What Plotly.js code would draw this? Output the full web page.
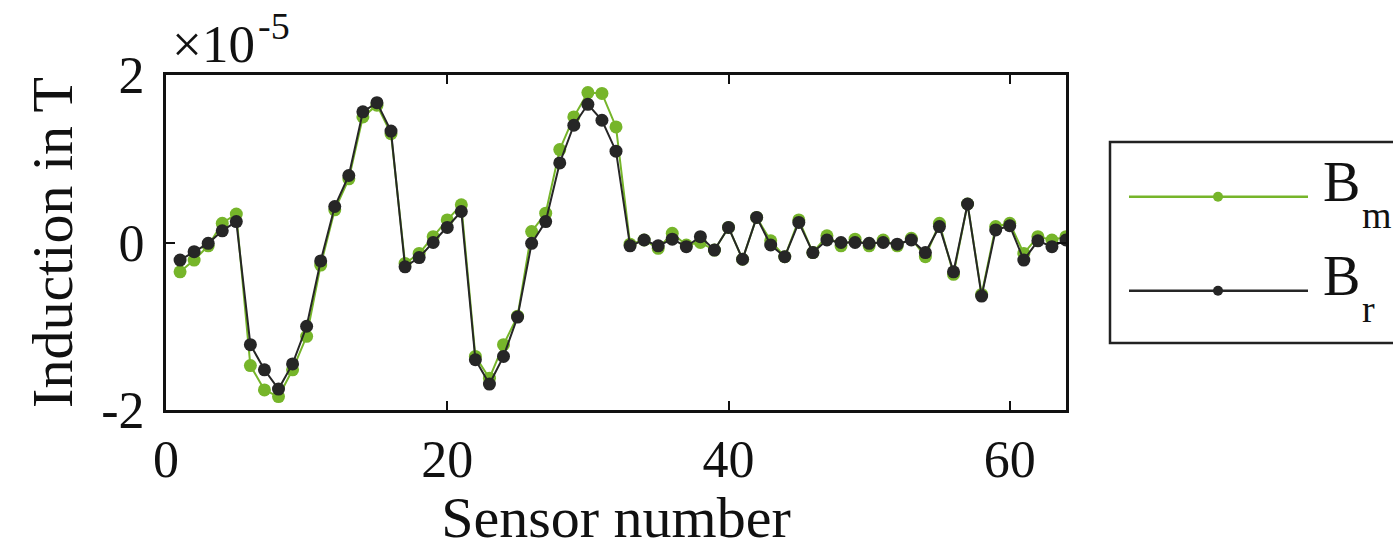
<!DOCTYPE html>
<html>
<head>
<meta charset="utf-8">
<script src="https://cdn.plot.ly/plotly-3.0.1.min.js"></script>
<style>
  html, body { margin: 0; padding: 0; background: #ffffff; }
  #chart { width: 1393px; height: 550px; }
</style>
</head>
<body>
<div id="chart"></div>
<script>
// Sensor numbers 1..64
var sensors = [1,2,3,4,5,6,7,8,9,10,11,12,13,14,15,16,17,18,19,20,21,22,23,24,25,26,27,28,29,30,31,32,
               33,34,35,36,37,38,39,40,41,42,43,44,45,46,47,48,49,50,51,52,53,54,55,56,57,58,59,60,61,62,63,64];

// Measured induction B_m, in units of 1e-5 T
var bMeasured = [-0.35,-0.21,-0.04,0.23,0.34,-1.47,-1.76,-1.84,-1.52,-1.12,-0.27,0.39,0.76,1.50,1.64,1.30,
                 -0.25,-0.13,0.07,0.27,0.45,-1.36,-1.62,-1.22,-0.88,0.13,0.35,1.11,1.50,1.79,1.78,1.38,
                 -0.02,0.03,-0.07,0.11,-0.03,0.00,-0.09,0.18,-0.20,0.30,0.02,-0.17,0.27,-0.12,0.08,-0.04,
                 0.04,-0.04,0.03,-0.04,0.05,-0.17,0.23,-0.38,0.46,-0.62,0.19,0.23,-0.13,0.07,0.03,0.07];

// Reconstructed induction B_r, in units of 1e-5 T
var bReconstructed = [-0.21,-0.11,-0.01,0.14,0.25,-1.22,-1.52,-1.75,-1.45,-1.00,-0.22,0.43,0.80,1.56,1.67,1.33,
                      -0.29,-0.18,0.00,0.18,0.37,-1.40,-1.69,-1.36,-0.89,-0.01,0.25,0.95,1.40,1.65,1.46,1.09,
                      -0.04,0.03,-0.04,0.04,-0.05,0.07,-0.09,0.18,-0.20,0.30,-0.03,-0.17,0.24,-0.12,0.03,0.00,
                      0.00,-0.01,0.00,-0.02,0.03,-0.12,0.19,-0.35,0.46,-0.64,0.15,0.20,-0.21,0.02,-0.05,0.03];

var xTicks = [0, 20, 40, 60];
var yTicks = [-2, 0, 2];
var seriesNames = ['B', 'B'];
var seriesSubs = ['m', 'r'];

var greenCol = '#76B52A';
var darkCol = '#262626';
var serif = '"Liberation Serif", "Times New Roman", serif';

var L = 166, T = 75, W = 900, H = 335;
function px(x) { return (x - L) / W; }
function py(y) { return (T + H - y) / H; }

var traces = [
  { x: sensors, y: bMeasured, type: 'scatter', mode: 'lines+markers', name: 'B_m',
    line: { color: greenCol, width: 2 }, marker: { color: greenCol, size: 13 }, showlegend: false },
  { x: sensors, y: bReconstructed, type: 'scatter', mode: 'lines+markers', name: 'B_r',
    line: { color: darkCol, width: 2 }, marker: { color: darkCol, size: 13 }, showlegend: false }
];

var legendYs = [196.7, 290.7];
var legendCols = [greenCol, darkCol];
var shapes = [
  { type: 'rect', xref: 'paper', yref: 'paper', x0: px(1110), x1: px(1410), y0: py(343), y1: py(142),
    line: { color: '#222', width: 2.5 }, fillcolor: 'rgba(0,0,0,0)' }
];
var annotations = [
  { xref: 'paper', yref: 'paper', x: px(170), y: py(44.5), xanchor: 'left', yanchor: 'middle',
    text: '×10', showarrow: false, font: { family: serif, size: 53, color: '#111' } },
  { xref: 'paper', yref: 'paper', x: px(256), y: py(26), xanchor: 'left', yanchor: 'middle',
    text: '-5', showarrow: false, font: { family: serif, size: 38, color: '#111' } }
];
for (var i = 0; i < 2; i++) {
  shapes.push({ type: 'line', xref: 'paper', yref: 'paper', x0: px(1129), x1: px(1308),
    y0: py(legendYs[i]), y1: py(legendYs[i]), line: { color: legendCols[i], width: 2.5 } });
  shapes.push({ type: 'circle', xref: 'paper', yref: 'paper', xsizemode: 'pixel', ysizemode: 'pixel',
    xanchor: px(1218), yanchor: py(legendYs[i]), x0: -5, x1: 5, y0: -5, y1: 5,
    fillcolor: legendCols[i], line: { width: 0 } });
  annotations.push({ xref: 'paper', yref: 'paper', x: px(1321), y: py(legendYs[i] - 14.5),
    xanchor: 'left', yanchor: 'middle', text: seriesNames[i], showarrow: false,
    font: { family: serif, size: 56, color: '#111' } });
  annotations.push({ xref: 'paper', yref: 'paper', x: px(1360), y: py(legendYs[i] + 18.5),
    xanchor: 'left', yanchor: 'middle', text: seriesSubs[i], showarrow: false,
    font: { family: serif, size: 38, color: '#111' } });
}

var layout = {
  width: 1393, height: 550,
  margin: { l: L, r: 1393 - L - W, t: T, b: 550 - T - H },
  paper_bgcolor: '#ffffff', plot_bgcolor: '#ffffff',
  showlegend: false,
  font: { family: serif, color: '#111' },
  xaxis: {
    range: [0, 64], tickvals: xTicks, ticktext: xTicks.map(String),
    showgrid: false, zeroline: false, showline: true, mirror: 'ticks', linecolor: '#111', linewidth: 3,
    ticks: 'inside', ticklen: 9, tickwidth: 2, tickcolor: '#111',
    tickfont: { family: serif, size: 52, color: '#111' }, ticklabelstandoff: 2,
    title: { text: 'Sensor number', font: { family: serif, size: 58, color: '#111' }, standoff: 14 },
    automargin: false
  },
  yaxis: {
    range: [-2, 2], tickvals: yTicks, ticktext: yTicks.map(String),
    showgrid: false, zeroline: false, showline: true, mirror: 'ticks', linecolor: '#111', linewidth: 3,
    ticks: 'inside', ticklen: 9, tickwidth: 2, tickcolor: '#111',
    tickfont: { family: serif, size: 52, color: '#111' }, ticklabelstandoff: 8,
    title: { text: 'Induction in T', font: { family: serif, size: 58, color: '#111' }, standoff: 10 },
    automargin: false
  },
  shapes: shapes,
  annotations: annotations
};

Plotly.newPlot('chart', traces, layout, { displayModeBar: false, staticPlot: true });
</script>
</body>
</html>
